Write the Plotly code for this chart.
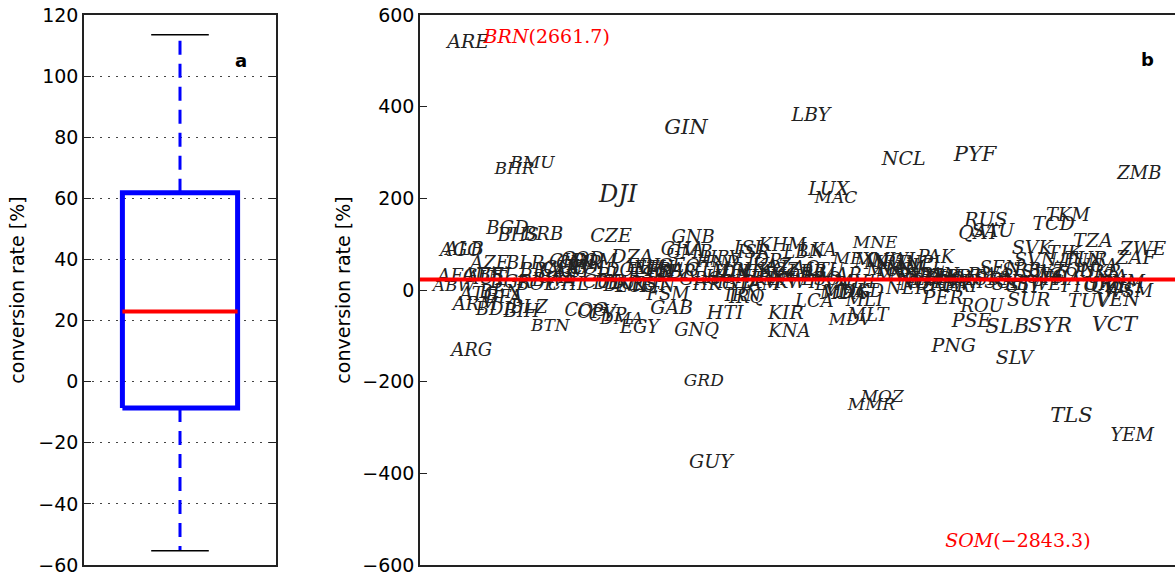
import numpy as np
import plotly.graph_objects as go

# ---------------- data ----------------
# panel a: box statistics of the conversion rate [%]
BOX_LOW = -55.3
BOX_Q1 = -8.6
BOX_MEDIAN = 23.0
BOX_Q3 = 61.8
BOX_HIGH = 113.5

# panel b: countries (alphabetical ISO3 order), conversion rate [%], label size class
countries = [
    "ABW", "AFG", "AGO", "ALB", "ARE", "ARG", "ARM", "ATG", "AUS", "AUT", "AZE",
    "BDI", "BEL", "BEN", "BFA", "BGD", "BGR", "BHR", "BHS", "BIH", "BLR", "BLZ", "BMU",
    "BOL", "BRA", "BRB", "BRN", "BTN", "BWA",
    "CAF", "CAN", "CHE", "CHL", "CHN", "CIV", "CMR", "COD", "COG", "COL", "COM", "CPV",
    "CRI", "CUB", "CYP", "CZE",
    "DEU", "DJI", "DMA", "DNK", "DOM", "DZA",
    "ECU", "EGY", "ERI", "ESP", "EST", "ETH",
    "FIN", "FJI", "FRA", "FSM",
    "GAB", "GBR", "GEO", "GHA", "GIN", "GMB", "GNB", "GNQ", "GRC", "GRD", "GTM", "GUY",
    "HKG", "HND", "HRV", "HTI", "HUN",
    "IDN", "IND", "IRL", "IRN", "IRQ", "ISL", "ISR", "ITA",
    "JAM", "JOR", "JPN",
    "KAZ", "KEN", "KGZ", "KHM", "KIR", "KNA", "KOR", "KWT",
    "LAO", "LBN", "LBR", "LBY", "LCA", "LKA", "LSO", "LTU", "LUX", "LVA",
    "MAC", "MAR", "MDA", "MDG", "MDV", "MEX", "MHL", "MKD", "MLI", "MLT", "MMR", "MNE",
    "MNG", "MOZ", "MRT", "MUS", "MWI", "MYS",
    "NAM", "NCL", "NER", "NGA", "NIC", "NLD", "NOR", "NPL", "NZL",
    "OMN",
    "PAK", "PAN", "PER", "PHL", "PLW", "PNG", "POL", "PRI", "PRT", "PRY", "PSE", "PYF",
    "QAT",
    "ROU", "RUS", "RWA",
    "SAU", "SDN", "SEN", "SGP", "SLB", "SLE", "SLV", "SOM", "SRB", "STP", "SUR", "SVK",
    "SVN", "SWE", "SWZ", "SYC", "SYR",
    "TCD", "TGO", "THA", "TJK", "TKM", "TLS", "TON", "TTO", "TUN", "TUR", "TUV", "TZA",
    "UGA", "UKR", "URY", "USA", "UZB",
    "VCT", "VEN", "VNM", "VUT",
    "WSM",
    "YEM",
    "ZAF", "ZMB", "ZWE",
]

rates = [
    8, 28, 84, 86, 538, -135, -33, -12, 30, 22, 55,
    -45, 30, -7, -18, 133, 15, 262, 117, -50, 55, -40, 275,
    10, 40, 120, 2661.7, -80, 18,
    25, 40, 45, 10, 60, 48, 55, 65, -46, 45, 60, -52,
    30, 15, -58, 116,
    12, 205, -65, 8, 40, 70,
    5, -83, 50, 30, 10, 45,
    5, 35, 40, -12,
    -42, 35, 50, 87, 352, 80, 112, -90, 20, -201, 40, -378,
    10, 60, 70, -52, 25,
    35, 15, 40, -15, -18, 90, 80, 35,
    10, 60, 25,
    50, 20, 40, 95, -52, -92, 30, 15,
    45, 80, 35, 380, -28, 85, 20, 40, 217, 10,
    199, 30, -10, -8, -66, 66, 15, -5, -25, -57, -252, 100,
    60, -234, 55, 40, 62, 30,
    45, 284, 2, 30, 50, 20, 10, 55, 25,
    15,
    68, 30, -20, 25, 10, -125, 20, 5, 25, 15, -70, 293,
    122,
    -38, 149, 30,
    125, 20, 45, 15, -82, 10, -151, -2843.3, 40, 5, -24, 90,
    63, 10, 35, 25, -81,
    142, 30, 20, 79, 160, -276, 40, 5, 60, 65, -27, 105,
    50, 35, 10, 25, 5,
    -79, -24, 15, 5,
    -5,
    -320,
    68, 253, 87,
]

# label size class: 1 small, 2 medium, 3 large, 4 extra large, 5 largest
size_class = [
    1, 2, 2, 2, 3, 2, 2, 2, 2, 2, 2,
    2, 2, 2, 2, 2, 2, 1, 2, 2, 2, 2, 1,
    2, 2, 2, 2, 1, 2,
    2, 2, 2, 2, 2, 2, 2, 2, 2, 2, 2, 2,
    2, 2, 2, 3,
    2, 5, 1, 2, 2, 3,
    2, 2, 2, 2, 2, 2,
    2, 2, 2, 2,
    3, 2, 2, 2, 4, 2, 2, 2, 2, 1, 2, 3,
    2, 1, 1, 3, 2,
    2, 2, 2, 2, 2, 3, 2, 2,
    2, 2, 2,
    2, 2, 2, 2, 3, 2, 2, 2,
    2, 2, 2, 3, 2, 2, 2, 2, 3, 2,
    1, 2, 2, 2, 1, 1, 2, 2, 2, 2, 1, 1,
    2, 1, 2, 2, 2, 2,
    2, 3, 2, 2, 2, 2, 2, 2, 2,
    2,
    2, 2, 3, 2, 2, 3, 2, 2, 2, 2, 3, 4,
    3,
    2, 3, 2,
    3, 2, 2, 2, 4, 2, 3, 2, 2, 2, 3, 3,
    3, 2, 2, 2, 4,
    3, 2, 2, 3, 2, 4, 2, 2, 2, 3, 3, 3,
    2, 2, 2, 2, 2,
    4, 3, 2, 2,
    2,
    2,
    3, 2, 3,
]

# ---------------- styles ----------------
SIZE_PX = {1: 17, 2: 18, 3: 19, 4: 21, 5: 24}
CLIP = 550          # display limit for extreme values in panel b
BOX_W = 0.6
CAP_W = 0.3
BLUE = "#0000ff"
RED = "#ff0000"
AX_FONT = dict(family="DejaVu Sans", size=19, color="black")
LABEL_FONT = "DejaVu Serif"

x_idx = np.arange(len(countries))
rates_arr = np.array(rates, dtype=float)
outlier = np.abs(rates_arr) > CLIP
y_disp = np.clip(rates_arr, -CLIP, CLIP)
sizes = [SIZE_PX[c] for c in size_class]
median_b = BOX_MEDIAN  # red reference line at the median conversion rate

fig = go.Figure()

# ---- panel a: box ----
xa = 1.0
fig.add_trace(go.Scatter(
    x=[xa - BOX_W / 2, xa + BOX_W / 2, xa + BOX_W / 2, xa - BOX_W / 2, xa - BOX_W / 2],
    y=[BOX_Q1, BOX_Q1, BOX_Q3, BOX_Q3, BOX_Q1],
    mode="lines", line=dict(color=BLUE, width=5), xaxis="x", yaxis="y",
    hoverinfo="skip"))
fig.add_trace(go.Scatter(x=[xa, xa], y=[BOX_Q3, BOX_HIGH], mode="lines",
                         line=dict(color=BLUE, width=3, dash="14px,9px"),
                         xaxis="x", yaxis="y"))
fig.add_trace(go.Scatter(x=[xa, xa], y=[BOX_Q1, BOX_LOW], mode="lines",
                         line=dict(color=BLUE, width=3, dash="14px,9px"),
                         xaxis="x", yaxis="y"))
for v in (BOX_LOW, BOX_HIGH):
    fig.add_trace(go.Scatter(x=[xa - CAP_W / 2, xa + CAP_W / 2], y=[v, v], mode="lines",
                             line=dict(color="black", width=1.5), xaxis="x", yaxis="y"))
fig.add_trace(go.Scatter(x=[xa - BOX_W / 2, xa + BOX_W / 2], y=[BOX_MEDIAN, BOX_MEDIAN],
                         mode="lines", line=dict(color=RED, width=4), xaxis="x", yaxis="y"))

# ---- panel b: country labels ----
norm = ~outlier
fig.add_trace(go.Scatter(
    x=x_idx[norm], y=y_disp[norm], mode="text",
    text=[c for c, n in zip(countries, norm) if n],
    textposition="middle center",
    textfont=dict(family=LABEL_FONT, size=[s for s, n in zip(sizes, norm) if n],
                  color="#222222", style="italic"),
    xaxis="x2", yaxis="y2", hoverinfo="skip"))
out_text = []
for c, r in zip(np.array(countries)[outlier], rates_arr[outlier]):
    out_text.append(f"<i>{c}</i>({r:.1f})".replace("-", "\u2212"))
fig.add_trace(go.Scatter(
    x=x_idx[outlier], y=y_disp[outlier], mode="text", text=out_text,
    textposition="middle center",
    textfont=dict(family=LABEL_FONT, size=19, color=RED),
    xaxis="x2", yaxis="y2", hoverinfo="skip"))

# red median line across panel b
fig.add_shape(type="line", xref="x2 domain", yref="y2", x0=0, x1=1,
              y0=median_b, y1=median_b, line=dict(color=RED, width=4), layer="above")

W, H = 1175, 576
L, R, T, B = 84, 0, 15, 11
pw = W - L - R
fig.update_layout(
    width=W, height=H, margin=dict(l=L, r=R, t=T, b=B, autoexpand=False),
    plot_bgcolor="white", paper_bgcolor="white", showlegend=False,
    xaxis=dict(domain=[0, 192 / pw], range=[0.5, 1.5], showticklabels=False,
               ticks="", showgrid=False, zeroline=False, showline=True, mirror=True,
               linecolor="#222", linewidth=1.5, automargin=False),
    yaxis=dict(range=[-60, 120], dtick=20, tick0=0, showgrid=True, griddash="2px,6px",
               gridcolor="#444", gridwidth=1, zeroline=False, showline=True,
               mirror="ticks", linecolor="#222", linewidth=1.5, ticks="inside",
               ticklen=7, tickcolor="#222", tickfont=AX_FONT, ticklabeloverflow="allow",
               automargin=False,
               title=dict(text="conversion rate [%]", font=AX_FONT, standoff=9)),
    xaxis2=dict(domain=[336 / pw, 1], range=[-9.5, 202], showticklabels=False,
                ticks="", showgrid=False, zeroline=False, showline=True, mirror=True,
                linecolor="#222", linewidth=1.5, anchor="y2", automargin=False),
    yaxis2=dict(range=[-600, 600], dtick=200, tick0=0, showgrid=False, zeroline=False,
                showline=True, mirror=False, linecolor="#222", linewidth=1.5,
                ticks="inside", ticklen=7, tickcolor="#222", tickfont=AX_FONT,
                ticklabeloverflow="allow", anchor="x2", automargin=False,
                title=dict(text="conversion rate [%]", font=AX_FONT, standoff=7)),
    annotations=[
        dict(text="<b>a</b>", xref="x", yref="y", x=1.32, y=105, xanchor="center",
             yanchor="middle", showarrow=False,
             font=dict(family="DejaVu Sans", size=18, color="black")),
        dict(text="<b>b</b>", xref="x2", yref="y2", x=194.4, y=503, xanchor="center",
             yanchor="middle", showarrow=False,
             font=dict(family="DejaVu Sans", size=18, color="black")),
    ],
)

fig.write_html("out.html",
               config={"displayModeBar": False},
               post_script="document.body.style.margin='0px';"
                           "document.body.style.overflow='hidden';")
